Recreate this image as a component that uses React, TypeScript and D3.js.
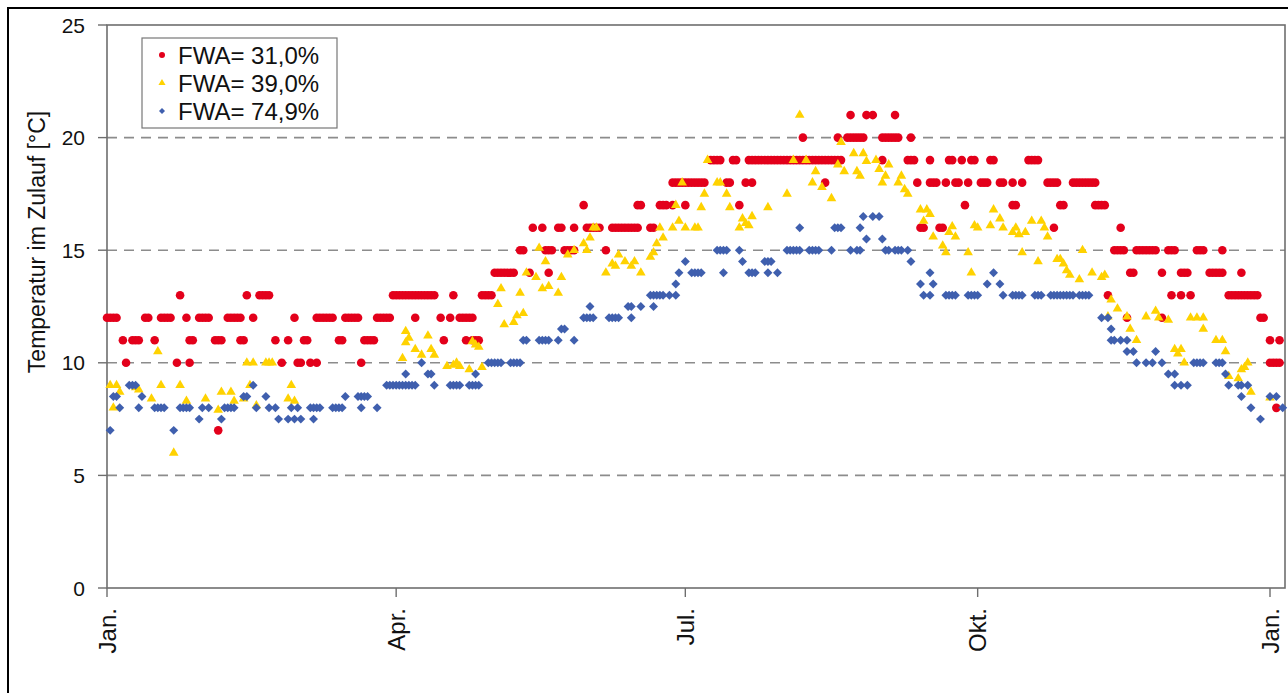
import React from 'react';
import * as d3 from 'd3';

const W = 1288;
const H = 693;

const monthTicks = [0, 91, 182, 274, 366];
const monthLabels = ['Jan.', 'Apr.', 'Jul.', 'Okt.', 'Jan.'];
const yTicks = [0, 5, 10, 15, 20, 25];
const gridValues = [5, 10, 15, 20];
const seriesNames = ['FWA= 31,0%', 'FWA= 39,0%', 'FWA= 74,9%'];
const seriesColors = ['#e3001b', '#ffd200', '#3f5fae'];
const yTitle = 'Temperatur im Zulauf [°C]';

// FWA 31,0 % : one reading per day (null = no reading), day 0 = 1 Jan
const redDaily: (number | null)[] = [
  12, 12, 12, 12, null, 11, 10, null, 11, 11,
  11, null, 12, 12, null, 11, null, 12, 12, 12,
  12, null, 10, 13, null, 12, 11, 11, null, 12,
  12, 12, 12, null, 11, 11, 11, null, 12, 12,
  12, 12, 12, 11, 13, null, 12, null, 13, 13,
  13, 13, null, 11, null, 10, null, 11, null, 12,
  10, 10, 11, 11, 10, null, 12, 12, 12, 12,
  12, 12, null, 11, 11, 12, 12, 12, 12, 12,
  10, 11, 11, 11, 11, 12, 12, 12, 12, 12,
  13, 13, 13, 13, 13, 13, 13, 13, 13, 13,
  13, 13, 13, 13, null, 12, 11, null, 12, 13,
  null, 12, 12, 12, 12, 12, 11, 11, 13, 13,
  13, 13, 14, 14, 14, 14, 14, 14, 14, null,
  15, 15, null, 14, 16, null, null, 16, 15, 15,
  15, null, 16, 16, 15, 15, 15, 15, null, null,
  17, 16, 16, 16, 16, 16, null, 15, null, 16,
  16, 16, 16, 16, 16, 16, 16, 16, 17, null,
  null, 16, 16, null, 17, 17, 17, null, 18, 18,
  18, 18, 18, 18, 18, 18, 18, 18, 18, null,
  19, 19, 19, 19, null, 18, 18, 19, 19, 17,
  null, 18, 19, 19, 19, 19, 19, 19, 19, 19,
  19, 19, 19, 19, 19, 19, 19, 19, 19, 19,
  19, 19, 19, 19, 19, 19, 19, 19, 19, 19,
  19, 19, null, 20, 20, 20, 20, 20, 20, 21,
  null, 21, null, null, 20, 20, 20, 20, 20, 20,
  null, null, 19, 19, 19, 18, 16, 16, null, 19,
  18, 18, 16, 16, 18, 19, 19, 18, 18, 19,
  17, 18, 19, 19, null, 18, 18, 18, 19, 19,
  null, 18, 18, null, null, 18, 17, null, 18, null,
  19, 19, 19, 19, null, null, 18, 18, 18, 18,
  17, 17, null, null, 18, 18, 18, 18, 18, 18,
  18, 18, 17, 17, 17, 13, null, 15, 15, 15,
  15, 12, 14, 14, 15, 15, 15, 15, 15, 15,
  15, null, 14, null, 15, 15, 15, null, 14, 14,
  14, 13, null, 15, 15, 15, null, 14, 14, 14,
  14, 14, null, 13, 13, 13, 13, 13, 13, 13,
  13, 13, 13, 12, 12, null, 10, 10, 10, 10,
];

// FWA 31,0 % : second readings on some days [day, °C]
const redExtra: [number, number][] = [
  [26, 10], [35, 7], [42, 11], [66, 10], [97, 12], [113, 11], [115, 11], [139, 14],
  [147, 16], [167, 17], [178, 17], [182, 17], [203, 18], [219, 20], [226, 18], [230, 20],
  [234, 21], [244, 19], [248, 21], [253, 20], [259, 18], [285, 17], [298, 16], [311, 17],
  [319, 16], [332, 12], [335, 13], [338, 13], [351, 15], [357, 14], [366, 11], [368, 8], [369, 11],
];

// FWA 39,0 % [day, °C]
const yellowPoints: [number, number][] = [
  [1, 9.0], [2, 8.0], [3, 9.0], [4, 8.7], [9, 8.9], [10, 8.8], [14, 8.4], [16, 10.5], [17, 9.0],
  [21, 6.0], [23, 9.0], [25, 8.3], [31, 8.4], [35, 7.9], [36, 8.7], [39, 8.7], [40, 8.3], [43, 8.4],
  [44, 10.0], [45, 9.0], [46, 10.0], [47, 8.1], [50, 10.0], [51, 10.0], [52, 10.0], [57, 8.4],
  [58, 9.0], [59, 8.3],
  [93, 10.2], [94, 10.9], [94, 11.4], [95, 11.1], [97, 10.6], [99, 10.35], [101, 11.2], [102, 10.6],
  [103, 10.35], [107, 9.85], [109, 9.9], [110, 10.0], [111, 9.85], [114, 9.7], [115, 10.95],
  [116, 10.8], [117, 10.7], [118, 9.8],
  [123, 12.6], [124, 13.3], [125, 11.7], [128, 11.8], [129, 12.1], [130, 13.1], [131, 12.2],
  [132, 14.0], [135, 13.8], [136, 15.1], [137, 13.3], [138, 14.5], [139, 13.4], [142, 13.1],
  [143, 13.8], [145, 14.8], [147, 15.0], [150, 15.3], [151, 15.0], [152, 15.55], [153, 16.0],
  [154, 16.0], [157, 14.0], [159, 14.4], [160, 14.3], [161, 14.8], [163, 14.5], [165, 14.3],
  [166, 14.5], [168, 14.0], [171, 14.7], [172, 14.9], [173, 15.3], [174, 16.0], [175, 15.55],
  [178, 16.0], [179, 17.0], [180, 16.3], [181, 18.0], [182, 16.0], [185, 16.0], [186, 16.0],
  [187, 16.9], [188, 17.5], [189, 19.0], [192, 18.0], [193, 18.0], [195, 17.5], [196, 16.9],
  [199, 16.0], [200, 16.4], [201, 16.2], [202, 16.1], [203, 16.5], [208, 16.9], [214, 17.5],
  [216, 19.0], [218, 21.0], [220, 19.0], [222, 18.0], [223, 18.5], [225, 17.8], [228, 17.3],
  [230, 18.8], [231, 19.8], [232, 18.5], [235, 19.3], [236, 18.5], [237, 18.3], [238, 19.3],
  [239, 18.95], [242, 19.0], [243, 18.6], [244, 18.0], [245, 18.3], [246, 18.8], [249, 18.0],
  [250, 18.3], [251, 17.7], [252, 17.5], [256, 16.8], [257, 16.3], [258, 16.8], [259, 16.6],
  [260, 15.6], [263, 15.2], [264, 14.9], [265, 15.8], [266, 16.05], [267, 15.6], [271, 14.9],
  [272, 14.0], [273, 16.1], [274, 16.0], [278, 16.1], [279, 16.8], [281, 16.4], [282, 16.0],
  [285, 15.8], [286, 16.0], [287, 15.7], [288, 14.9], [289, 15.8], [291, 16.3], [293, 14.5],
  [294, 16.3], [295, 16.0], [296, 15.6], [299, 14.6], [300, 14.6], [301, 14.4], [302, 14.1],
  [303, 13.9], [306, 13.7], [307, 15.0], [310, 14.0], [313, 13.8], [314, 13.9], [315, 12.05],
  [316, 12.8], [318, 12.4], [321, 12.05], [322, 11.5], [324, 11.0], [327, 12.05], [330, 12.3],
  [331, 12.0], [334, 11.9], [336, 10.6], [337, 10.4], [338, 10.6], [339, 10.0], [341, 12.0],
  [343, 12.0], [345, 12.0], [345, 11.5], [349, 11.0], [351, 11.0], [352, 10.5], [353, 9.4],
  [356, 9.3], [357, 9.7], [358, 9.8], [359, 10.0], [360, 8.7], [366, 8.45],
];

// FWA 74,9 % [day, °C]
const bluePoints: [number, number][] = [
  [1, 7.0], [2, 8.5], [3, 8.5], [4, 8.0], [7, 9.0], [8, 9.0], [9, 9.0], [10, 8.0], [11, 8.5],
  [15, 8.0], [16, 8.0], [17, 8.0], [18, 8.0], [21, 7.0], [23, 8.0], [24, 8.0], [25, 8.0], [26, 8.0],
  [29, 7.5], [30, 8.0], [32, 8.0], [36, 7.5], [37, 8.0], [38, 8.0], [39, 8.0], [40, 8.0], [43, 8.5],
  [44, 8.5], [46, 9.0], [47, 8.0], [50, 8.5], [51, 8.0], [53, 8.0], [54, 7.5], [57, 7.5], [58, 8.0],
  [59, 7.5], [60, 8.0], [61, 7.5], [64, 8.0], [65, 8.0], [65, 7.5], [66, 8.0], [67, 8.0], [71, 8.0],
  [72, 8.0], [73, 8.0], [74, 8.0], [75, 8.5], [79, 8.5], [80, 8.5], [80, 8.0], [81, 8.5], [82, 8.5],
  [85, 8.0], [88, 9.0], [89, 9.0], [90, 9.0], [91, 9.0], [92, 9.0], [93, 9.0], [94, 9.0], [94, 9.5],
  [95, 9.0], [96, 9.0], [97, 9.0], [99, 10.0], [101, 9.5], [102, 9.5], [103, 9.0], [108, 9.0],
  [109, 9.0], [110, 9.0], [111, 9.0], [114, 9.0], [115, 9.0], [116, 9.0], [116, 9.5], [117, 9.0],
  [120, 10.0], [121, 10.0], [122, 10.0], [123, 10.0], [124, 10.0], [127, 10.0], [128, 10.0],
  [129, 10.0], [130, 10.0], [131, 11.0], [132, 11.0], [136, 11.0], [137, 11.0], [138, 11.0],
  [139, 11.0], [142, 11.0], [143, 11.5], [144, 11.5], [147, 11.0], [150, 12.0], [151, 12.0],
  [152, 12.0], [152, 12.5], [153, 12.0], [158, 12.0], [159, 12.0], [160, 12.0], [161, 12.0],
  [164, 12.5], [165, 12.5], [165, 12.0], [168, 12.5], [171, 13.0], [172, 13.0], [172, 12.5],
  [173, 13.0], [174, 13.0], [175, 13.0], [177, 13.0], [179, 13.0], [179, 13.5], [180, 14.0],
  [182, 14.5], [184, 14.0], [185, 14.0], [186, 14.0], [187, 14.0], [192, 15.0], [193, 15.0],
  [194, 15.0], [194, 14.0], [195, 15.0], [199, 15.0], [200, 14.5], [202, 14.0], [203, 14.0],
  [204, 14.0], [207, 14.5], [208, 14.5], [208, 14.0], [209, 14.5], [211, 14.0], [214, 15.0],
  [215, 15.0], [216, 15.0], [217, 15.0], [218, 15.0], [218, 16.0], [221, 15.0], [222, 15.0],
  [223, 15.0], [224, 15.0], [228, 15.0], [229, 16.0], [230, 16.0], [231, 16.0], [234, 15.0],
  [236, 15.0], [237, 15.0], [237, 16.0], [238, 16.5], [239, 15.5], [241, 16.5], [243, 16.5],
  [244, 15.5], [245, 15.0], [246, 15.0], [248, 15.0], [249, 15.0], [250, 15.0], [252, 15.0],
  [253, 14.5], [256, 13.5], [257, 13.0], [259, 13.0], [259, 14.0], [260, 13.5], [264, 13.0],
  [265, 13.0], [266, 13.0], [267, 13.0], [271, 13.0], [272, 13.0], [273, 13.0], [274, 13.0],
  [277, 13.5], [279, 14.0], [281, 13.5], [282, 13.0], [285, 13.0], [286, 13.0], [287, 13.0],
  [288, 13.0], [292, 13.0], [293, 13.0], [294, 13.0], [297, 13.0], [298, 13.0], [299, 13.0],
  [300, 13.0], [301, 13.0], [302, 13.0], [303, 13.0], [304, 13.0], [306, 13.0], [307, 13.0],
  [308, 13.0], [309, 13.0], [313, 12.0], [315, 12.0], [316, 11.5], [316, 11.0], [317, 11.0],
  [319, 11.0], [321, 11.0], [321, 10.5], [323, 10.5], [324, 10.0], [327, 10.0], [329, 10.0],
  [330, 10.5], [332, 10.0], [334, 9.5], [336, 9.5], [336, 9.0], [338, 9.0], [340, 9.0],
  [342, 10.0], [343, 10.0], [344, 10.0], [345, 10.0], [349, 10.0], [350, 10.0], [351, 10.0],
  [352, 9.5], [353, 9.0], [356, 9.0], [357, 9.0], [357, 8.5], [359, 9.0], [360, 8.0], [363, 7.5],
  [366, 8.5], [368, 8.5], [370, 8.0],
];

const FONT = '"Liberation Sans", Arial, Helvetica, sans-serif';

export default function App() {
  const plotLeft = 107;
  const plotRight = 1285;
  const plotTop = 25;
  const plotBottom = 588;

  const x = d3.scaleLinear().domain([0, 366]).range([107, 1270]);
  const y = d3.scaleLinear().domain([0, 25]).range([plotBottom, plotTop]);

  const redPoints: [number, number][] = [];
  redDaily.forEach((v, i) => {
    if (v !== null) redPoints.push([i, v]);
  });
  redExtra.forEach((p) => redPoints.push(p));

  const triPath = d3.symbol().type(d3.symbolTriangle).size(40)() as string;
  const diaPath = d3.symbol().type(d3.symbolSquare).size(40)() as string;
  const triLegend = d3.symbol().type(d3.symbolTriangle).size(22)() as string;
  const diaLegend = d3.symbol().type(d3.symbolSquare).size(18)() as string;

  const legendX = 142;
  const legendY = 38;
  const legendRowY = [55, 83, 111];

  return (
    <svg
      width={W}
      height={H}
      viewBox={`0 0 ${W} ${H}`}
      style={{ position: 'absolute', left: 0, top: 0, background: '#fff', fontFamily: FONT }}
    >
      <rect x={0} y={0} width={W} height={H} fill="#fff" />
      {/* outer frame */}
      <rect x={8} y={8} width={W + 20} height={H + 20} fill="none" stroke="#000" strokeWidth={2} />

      {/* grid lines */}
      {gridValues.map((v) => (
        <line
          key={'g' + v}
          x1={plotLeft}
          x2={plotRight}
          y1={y(v)}
          y2={y(v)}
          stroke="#8c8c8c"
          strokeWidth={1.6}
          strokeDasharray="10,7"
        />
      ))}

      {/* plot border */}
      <rect
        x={plotLeft}
        y={plotTop}
        width={plotRight - plotLeft}
        height={plotBottom - plotTop}
        fill="none"
        stroke="#6e6e6e"
        strokeWidth={1.6}
      />

      {/* y ticks and labels */}
      {yTicks.map((v) => (
        <g key={'yt' + v}>
          <line x1={plotLeft - 9} x2={plotLeft} y1={y(v)} y2={y(v)} stroke="#6e6e6e" strokeWidth={1.4} />
          <text x={85} y={y(v)} dy="0.36em" textAnchor="end" fontSize={21} fill="#111">
            {v}
          </text>
        </g>
      ))}

      {/* x ticks and labels */}
      {monthTicks.map((d, i) => (
        <g key={'xt' + i}>
          <line x1={x(d)} x2={x(d)} y1={plotBottom} y2={plotBottom + 9} stroke="#6e6e6e" strokeWidth={1.4} />
          <text
            transform={`translate(${x(d)},${plotBottom + 20}) rotate(-90)`}
            dy="0.36em"
            textAnchor="end"
            fontSize={24}
            fill="#111"
          >
            {monthLabels[i]}
          </text>
        </g>
      ))}

      {/* y title */}
      <text
        transform={`translate(37,242) rotate(-90)`}
        dy="0.36em"
        textAnchor="middle"
        fontSize={23}
        fill="#111"
      >
        {yTitle}
      </text>

      {/* series */}
      <g>
        {redPoints.map((p, i) => (
          <circle key={'r' + i} cx={x(p[0])} cy={y(p[1])} r={4.3} fill={seriesColors[0]} />
        ))}
      </g>
      <g>
        {yellowPoints.map((p, i) => (
          <path key={'y' + i} d={triPath} transform={`translate(${x(p[0])},${y(p[1])})`} fill={seriesColors[1]} />
        ))}
      </g>
      <g>
        {bluePoints.map((p, i) => (
          <path
            key={'b' + i}
            d={diaPath}
            transform={`translate(${x(p[0])},${y(p[1])}) rotate(45)`}
            fill={seriesColors[2]}
          />
        ))}
      </g>

      {/* legend */}
      <rect x={legendX} y={legendY} width={195} height={90} fill="#fff" stroke="#777" strokeWidth={1.2} />
      {seriesNames.map((name, i) => (
        <g key={'l' + i}>
          {i === 0 && <circle cx={162} cy={legendRowY[i]} r={3} fill={seriesColors[0]} />}
          {i === 1 && <path d={triLegend} transform={`translate(162,${legendRowY[i]})`} fill={seriesColors[1]} />}
          {i === 2 && (
            <path d={diaLegend} transform={`translate(162,${legendRowY[i]}) rotate(45)`} fill={seriesColors[2]} />
          )}
          <text x={178} y={legendRowY[i]} dy="0.36em" fontSize={24} fill="#111">
            {name}
          </text>
        </g>
      ))}
    </svg>
  );
}
